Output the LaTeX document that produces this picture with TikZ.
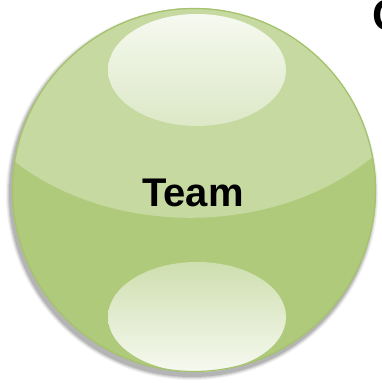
\documentclass[tikz,border=0pt]{standalone}
\usepackage{fontspec}
\setmainfont{Liberation Sans}
\begin{document}
\begin{tikzpicture}[x=1pt,y=1pt,
  lowgreen/.style={fill=ballLow},
  hilite/.style={draw=none},
  label/.style={font=\bfseries\fontsize{40}{40}\selectfont, text=black, inner sep=0pt}]
\definecolor{ballLow}{HTML}{AFCA7A}
\definecolor{ballHigh}{HTML}{C6D9A1}
\definecolor{ballEdge}{HTML}{A5C26C}
\definecolor{hiTop}{HTML}{F6F9F0}
\definecolor{hiBot}{HTML}{DCE8C6}
\useasboundingbox (0,0) rectangle (382,383);
% shadow
\foreach \r/\o in {186/0.05,185/0.07,184/0.09,183/0.12}{
  \fill[black,opacity=\o] (192,189) circle (\r);
}
% ball
\fill[ballLow] (194,193) circle (182);
\begin{scope}
  \clip (194,193) circle (182);
  \fill[ballHigh] (0,234) .. controls (100,141) and (290,141) .. (390,242) -- (390,390) -- (0,390) -- cycle;
  \shade[top color=hiTop, bottom color=hiBot] (197,313) ellipse (89 and 56);
  \shade[top color=ballHigh!85!white, bottom color=hiTop] (197,66) ellipse (89 and 55);
\end{scope}
\draw[ballEdge, line width=1.2pt] (194,193) circle (181.5);
\node[label] (team) at (193,190) {Team};
\begin{scope}
  \clip (0,0) rectangle (382,383);
  \node[font=\bfseries\fontsize{44}{44}\selectfont, anchor=north west, inner sep=0pt] (cut) at (372,383) {C};
\end{scope}
\end{tikzpicture}
\end{document}
